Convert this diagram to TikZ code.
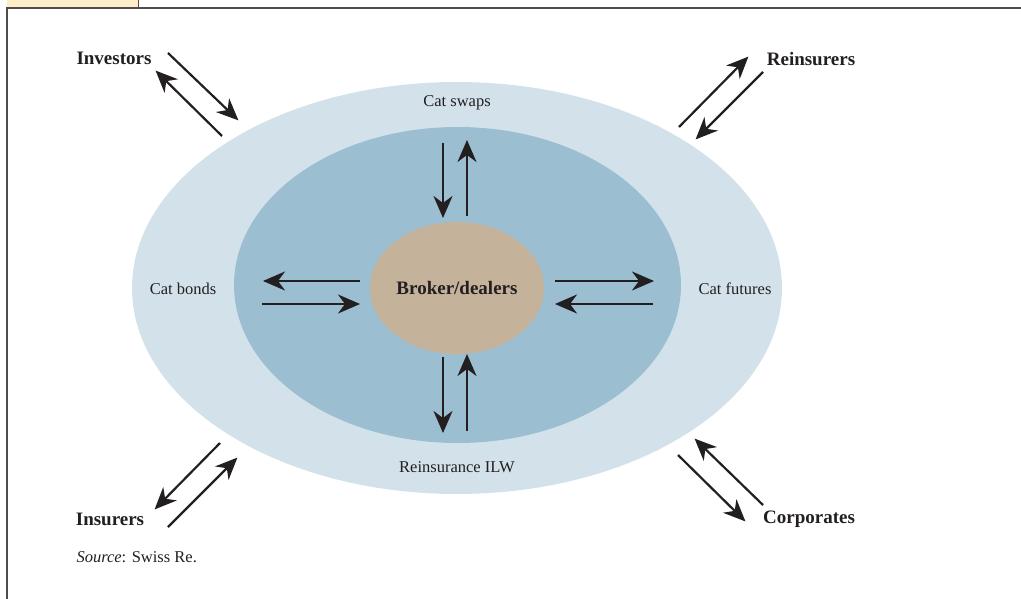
\documentclass[tikz,border=0pt]{standalone}
\usepackage{fontspec}
\setmainfont{Liberation Serif}
\usetikzlibrary{arrows.meta}
\definecolor{outerc}{HTML}{D3E2EA}
\definecolor{innerc}{HTML}{9BBED1}
\definecolor{corec}{HTML}{C4B29A}
\definecolor{tabc}{HTML}{FDEDC8}
\definecolor{inkc}{HTML}{231F20}
\tikzset{
  flow/.style={draw=inkc, line width=2.2pt, -{Stealth[length=22pt,width=19pt,inset=7pt]}, shorten >=-2pt},
  actor/.style={font=\fontsize{19}{22}\selectfont\bfseries, text=inkc},
  market/.style={font=\fontsize{16.5}{19}\selectfont, text=inkc},
}
\begin{document}
\begin{tikzpicture}[x=1pt,y=-1pt]
\useasboundingbox (0,0) rectangle (1021,599);
% frame
\fill[tabc] (7,0) rectangle (138,8);
\draw[line width=0.8pt, inkc!80] (138,0) -- (138,8);
\draw[line width=1.4pt, inkc!80] (7,599) -- (7,8) -- (1021,8);
% ellipses
\fill[outerc] (457,288) ellipse [x radius=325, y radius=206];
\fill[innerc] (457.5,285) ellipse [x radius=223.5, y radius=158];
\fill[corec] (457,288) ellipse [x radius=87, y radius=66];
% labels
\node[market] (swaps) at (457,103) {Cat swaps};
\node[market] (bonds) at (183,289) {Cat bonds};
\node[market] (futures) at (735,289) {Cat futures};
\node[market] (ilw) at (457,467) {Reinsurance ILW};
\node[actor] (broker) at (457,288) {Broker/dealers};
\node[actor] (investors) at (114,58) {Investors};
\node[actor] (reinsurers) at (811,59) {Reinsurers};
\node[actor] (insurers) at (110,519) {Insurers};
\node[actor] (corporates) at (809,519) {Corporates};
\node[market, anchor=west] (source) at (73,557) {\textit{Source}: Swiss Re.};
% coordinates for arrow ends
\coordinate (t1a) at (443,143); \coordinate (t1b) at (443,216);
\coordinate (t2a) at (467,216); \coordinate (t2b) at (467,142);
\coordinate (b1a) at (443,357); \coordinate (b1b) at (443,431);
\coordinate (b2a) at (467,431); \coordinate (b2b) at (467,356);
\coordinate (l1a) at (360,281); \coordinate (l1b) at (265,281);
\coordinate (l2a) at (262,304); \coordinate (l2b) at (358,304);
\coordinate (r1a) at (555,281); \coordinate (r1b) at (652,281);
\coordinate (r2a) at (653,304); \coordinate (r2b) at (557,304);
\coordinate (i1a) at (168,53); \coordinate (i1b) at (237,119);
\coordinate (i2a) at (222,136); \coordinate (i2b) at (157,72);
\coordinate (re1a) at (679,127); \coordinate (re1b) at (747,58);
\coordinate (re2a) at (763,72); \coordinate (re2b) at (697,138);
\coordinate (in1a) at (220,443); \coordinate (in1b) at (156,508);
\coordinate (in2a) at (168,527); \coordinate (in2b) at (236,459);
\coordinate (c1a) at (678,455); \coordinate (c1b) at (744,520);
\coordinate (c2a) at (763,505); \coordinate (c2b) at (696,440);
\foreach \p in {t1,t2,b1,b2,l1,l2,r1,r2,i1,i2,re1,re2,in1,in2,c1,c2}
  \draw[flow] (\p a) -- (\p b);
\end{tikzpicture}
\end{document}
